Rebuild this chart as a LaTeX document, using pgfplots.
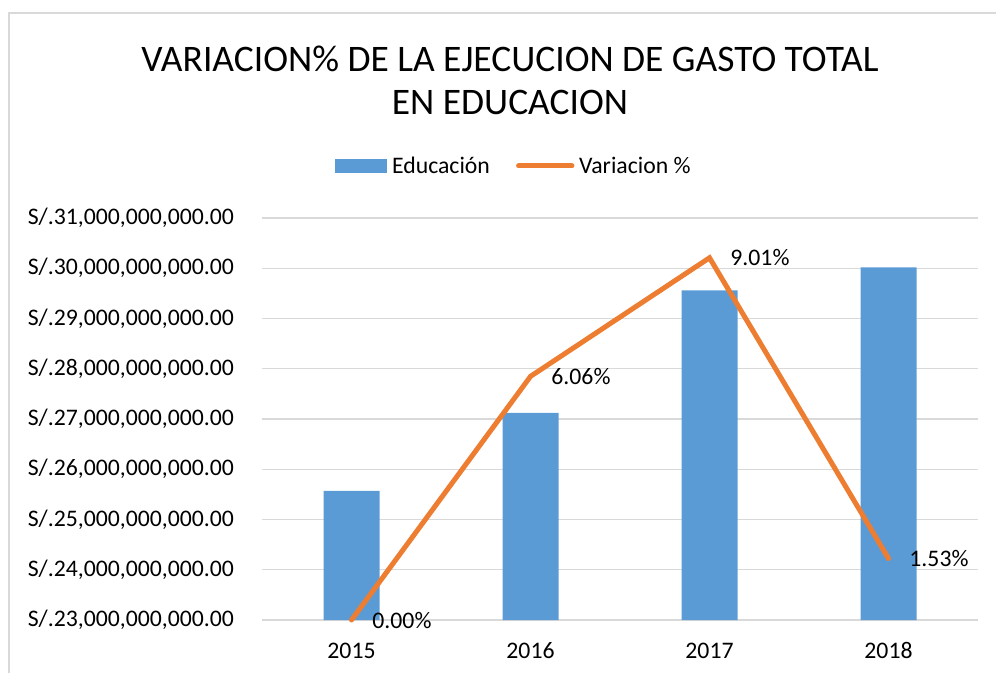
\documentclass[border=0pt]{standalone}
\usepackage{pgfplots}
\pgfplotsset{compat=1.18}
\usepackage{fontspec}
\setmainfont{Carlito}
\definecolor{barblue}{HTML}{5B9BD5}
\definecolor{lineorange}{HTML}{ED7D31}
\definecolor{gridgray}{HTML}{D9D9D9}
\newcommand{\lblfont}{\fontsize{17.8}{21}\selectfont}
\newcommand{\yfont}{\fontsize{17.8}{21}\selectfont}
\begin{document}
\begin{tikzpicture}[x=1pt,y=1pt]
\useasboundingbox (0,0) rectangle (747,504);
\draw[gridgray, line width=1.5pt] (6.75,-2) -- (6.75,494.25) -- (750,494.25);
\node[anchor=base, inner sep=0pt, font=\fontsize{28.1}{33}\selectfont] at (382.5,450) {VARIACION\% DE LA EJECUCION DE GASTO TOTAL};
\node[anchor=base, inner sep=0pt, font=\fontsize{28.1}{33}\selectfont] at (382.5,418) {EN EDUCACION};
\begin{axis}[
  at={(196.5pt,39pt)}, anchor=south west,
  width=537pt, height=301.5pt, scale only axis,
  xmin=-0.5, xmax=3.5,
  ymin=23000000000, ymax=31000000000,
  scaled y ticks=false,
  ytick={23000000000,24000000000,25000000000,26000000000,27000000000,28000000000,29000000000,30000000000,31000000000},
  yticklabels={{S/.23,000,000,000.00},{S/.24,000,000,000.00},{S/.25,000,000,000.00},{S/.26,000,000,000.00},{S/.27,000,000,000.00},{S/.28,000,000,000.00},{S/.29,000,000,000.00},{S/.30,000,000,000.00},{S/.31,000,000,000.00}},
  xtick={0,1,2,3}, xticklabels={2015,2016,2017,2018},
  ymajorgrids, grid style={gridgray, line width=1.1pt},
  axis line style={draw=none}, major tick length=0pt,
  tick label style={font=\lblfont, text=black},
  yticklabel style={anchor=east, xshift=-17.5pt, font=\yfont},
  xticklabel style={anchor=base, yshift=-28.5pt},
  legend columns=2,
  legend style={at={(0.102,1.1294)}, anchor=west, draw=none, fill=none, font=\lblfont,
    inner sep=0pt, nodes={inner sep=3.6pt},
    /tikz/every even column/.append style={column sep=16pt}},
]
\addplot[ybar, bar width=42pt, fill=barblue, draw=none,
  legend image code/.code={\fill[barblue] (0pt,-4.9pt) rectangle (39pt,4.9pt);}]
  coordinates {(0,25570000000) (1,27120000000) (2,29560000000) (3,30020000000)};
\addlegendentry{Educación}
\addlegendimage{lineorange, line width=3.75pt, line cap=round,
  legend image code/.code={\draw[lineorange, line width=3.75pt, line cap=round] (2pt,0pt) -- (42pt,0pt);}}
\addlegendentry{Variacion \%}
\end{axis}
\begin{axis}[
  at={(196.5pt,39pt)}, anchor=south west,
  width=537pt, height=301.5pt, scale only axis,
  xmin=-0.5, xmax=3.5, ymin=0, ymax=10,
  hide axis, clip=false,
]
\addplot[lineorange, line width=3.75pt, line cap=round, line join=miter,
  point meta=explicit symbolic,
  nodes near coords,
  every node near coord/.append style={anchor=west, xshift=10.5pt, font=\lblfont, text=black}]
  coordinates {(0,0) [0.00\%] (1,6.06) [6.06\%] (2,9.01) [9.01\%] (3,1.53) [1.53\%]};
\end{axis}
\end{tikzpicture}
\end{document}
